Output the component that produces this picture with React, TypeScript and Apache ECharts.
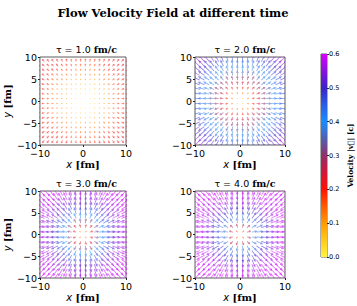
import React, { useEffect, useRef } from "react";
import * as echarts from "echarts";

// grid of arrow tails (same for x and y), fm
const GRID = [-10, -8.95, -7.89, -6.84, -5.79, -4.74, -3.68, -2.63, -1.58, -0.53, 0.53, 1.58, 2.63, 3.68, 4.74, 5.79, 6.84, 7.89, 8.95, 10];
const TAUS = ["1.0", "2.0", "3.0", "4.0"];
const SPEED_TAU1 = [0, 0.02, 0.05, 0.07, 0.09, 0.11, 0.13, 0.15, 0.17, 0.19, 0.21, 0.22, 0.23, 0.24, 0.25];
const SPEED_TAU2 = [0, 0.07, 0.13, 0.19, 0.25, 0.3, 0.35, 0.39, 0.43, 0.47, 0.5, 0.53, 0.55, 0.57, 0.59];
const SPEED_TAU3 = [0, 0.13, 0.23, 0.32, 0.4, 0.46, 0.51, 0.54, 0.56, 0.58, 0.59, 0.6, 0.6, 0.6, 0.6];
const SPEED_TAU4 = [0, 0.15, 0.27, 0.37, 0.45, 0.5, 0.54, 0.57, 0.58, 0.59, 0.6, 0.6, 0.6, 0.6, 0.6];
const SPEEDS = [SPEED_TAU1, SPEED_TAU2, SPEED_TAU3, SPEED_TAU4];
const X_TICKS_INTERVAL = 10;
const Y_TICKS_INTERVAL = 5;
const CBAR_TICKS_INTERVAL = 0.1;
const CMAP = ["#fff53c", "#ffc81e", "#ff9a00", "#ff5a00", "#ff1200", "#d01838", "#90306a", "#5060b0", "#1a8cff", "#2a5ce8", "#3a22c8", "#8a12e0", "#d600ff"];

const ARROW_SCALE = 3.6; // data units per unit speed

const GRIDS = [
  { left: 37, top: 57, width: 89, height: 88 },
  { left: 195, top: 57, width: 90, height: 88 },
  { left: 37, top: 191, width: 89, height: 87 },
  { left: 195, top: 191, width: 90, height: 87 },
];

function buildData(speeds: number[]) {
  const out: number[][] = [];
  for (const x of GRID) {
    for (const y of GRID) {
      const r = Math.hypot(x, y);
      const k = Math.min(speeds.length - 1, Math.round(r));
      out.push([x, y, speeds[k]]);
    }
  }
  return out;
}

const renderArrow = (params: any, api: any) => {
  const x = api.value(0), y = api.value(1), s = api.value(2);
  const r = Math.hypot(x, y) || 1;
  const len = s * ARROW_SCALE;
  const p0 = api.coord([x, y]);
  const p1 = api.coord([x + (x / r) * len, y + (y / r) * len]);
  const dx = p1[0] - p0[0], dy = p1[1] - p0[1];
  const L = Math.hypot(dx, dy);
  if (L < 0.1) return null;
  const ux = dx / L, uy = dy / L, nx = -uy, ny = ux;
  const hw = 0.4;
  const hh = Math.min(1.4, 0.2 + L * 0.35);
  const hl = Math.min(3, L * 0.5);
  const bx = p1[0] - ux * hl, by = p1[1] - uy * hl;
  const pts = [
    [p0[0] + nx * hw, p0[1] + ny * hw],
    [bx + nx * hw, by + ny * hw],
    [bx + nx * hh, by + ny * hh],
    [p1[0], p1[1]],
    [bx - nx * hh, by - ny * hh],
    [bx - nx * hw, by - ny * hw],
    [p0[0] - nx * hw, p0[1] - ny * hw],
  ];
  return { type: "polygon", shape: { points: pts }, style: { fill: api.visual("color"), opacity: 0.58 } };
};

const minus = (v: number) => String(v).replace("-", "\u2212");

export default function App() {
  const ref = useRef<HTMLDivElement>(null);
  useEffect(() => {
    if (!ref.current) return;
    const chart = echarts.init(ref.current, null, { renderer: "svg" });
    const tickFont = { fontFamily: "DejaVu Sans", fontSize: 9.5, color: "#000" };
    const nameRich = {
      i: { fontFamily: "DejaVu Sans", fontStyle: "italic", fontSize: 10, color: "#000" },
      b: { fontFamily: "DejaVu Serif", fontWeight: "bold", fontSize: 10, color: "#000" },
    };
    const xAxes: any[] = GRIDS.map((_, i) => ({
      type: "value", gridIndex: i, min: -10, max: 10, interval: X_TICKS_INTERVAL,
      axisLine: { show: false, onZero: false }, splitLine: { show: false },
      axisTick: { show: true, length: 2, lineStyle: { color: "#222" } },
      axisLabel: { ...tickFont, margin: 3, formatter: minus },
      name: "{i|x} {b|[fm]}", nameLocation: "middle", nameGap: 12,
      nameTextStyle: { rich: nameRich },
    }));
    const yAxes: any[] = GRIDS.map((_, i) => ({
      type: "value", gridIndex: i, min: -10, max: 10, interval: Y_TICKS_INTERVAL,
      axisLine: { show: false, onZero: false }, splitLine: { show: false },
      axisTick: { show: true, length: 2, lineStyle: { color: "#222" } },
      axisLabel: { ...tickFont, margin: 3, formatter: minus },
      name: i % 2 === 0 ? "{i|y} {b|[fm]}" : "", nameLocation: "middle", nameGap: 22, nameRotate: 90,
      nameTextStyle: { rich: nameRich },
    }));
    xAxes.push({ type: "category", gridIndex: 4, data: [""], show: false });
    yAxes.push({
      type: "value", gridIndex: 4, position: "right", min: 0, max: 0.6, interval: CBAR_TICKS_INTERVAL,
      axisLine: { show: false, onZero: false }, splitLine: { show: false },
      axisTick: { show: true, length: 2, lineStyle: { color: "#222" } },
      axisLabel: { fontFamily: "DejaVu Sans", fontSize: 6.5, color: "#000", margin: 2, formatter: (v: number) => v.toFixed(1) },
      name: "Velocity |v\u20D7| [c]", nameLocation: "middle", nameGap: 19, nameRotate: 90,
      nameTextStyle: { fontFamily: "DejaVu Serif", fontWeight: "bold", fontSize: 7.5, color: "#000" },
    });

    const grids: any[] = GRIDS.map((g) => ({ ...g, show: true, borderColor: "#333", borderWidth: 0.8, backgroundColor: "transparent" }));
    grids.push({ left: 321, top: 54, width: 6, height: 203, show: true, borderColor: "#333", borderWidth: 0.8 });

    const series: any[] = SPEEDS.map((sp, i) => ({
      type: "custom", coordinateSystem: "cartesian2d", xAxisIndex: i, yAxisIndex: i,
      data: buildData(sp), renderItem: renderArrow, clip: true, encode: { x: 0, y: 1 },
    }));
    const stops = CMAP.map((c, i) => ({ offset: i / (CMAP.length - 1), color: c }));
    series.push({
      type: "bar", xAxisIndex: 4, yAxisIndex: 4, data: [0.6], barWidth: "100%",
      itemStyle: { color: new echarts.graphic.LinearGradient(0, 1, 0, 0, stops) }, silent: true,
    });

    const titles: any[] = [{
      text: "Flow Velocity Field at different time", left: 168, top: 2, textAlign: "center",
      textStyle: { fontFamily: "DejaVu Serif", fontWeight: "bold", fontSize: 11.5, color: "#000" },
    }];
    GRIDS.forEach((g, i) => {
      titles.push({
        text: `{a|\u03C4 = ${TAUS[i]} }{b|fm/c}`, left: g.left + g.width / 2, top: g.top - 18, textAlign: "center",
        textStyle: {
          fontWeight: "normal",
          rich: {
            a: { fontFamily: "DejaVu Sans", fontWeight: "normal", fontSize: 9.5, color: "#000" },
            b: { fontFamily: "DejaVu Serif", fontWeight: "bold", fontSize: 9.5, color: "#000" },
          },
        },
      });
    });

    chart.setOption({
      animation: false,
      backgroundColor: "#fff",
      title: titles,
      grid: grids,
      xAxis: xAxes,
      yAxis: yAxes,
      visualMap: { type: "continuous", show: false, min: 0, max: 0.6, dimension: 2, seriesIndex: [0, 1, 2, 3], inRange: { color: CMAP } },
      series,
    });
    return () => chart.dispose();
  }, []);
  return <div ref={ref} style={{ position: "absolute", left: 0, top: 0, width: 357, height: 306 }} />;
}
